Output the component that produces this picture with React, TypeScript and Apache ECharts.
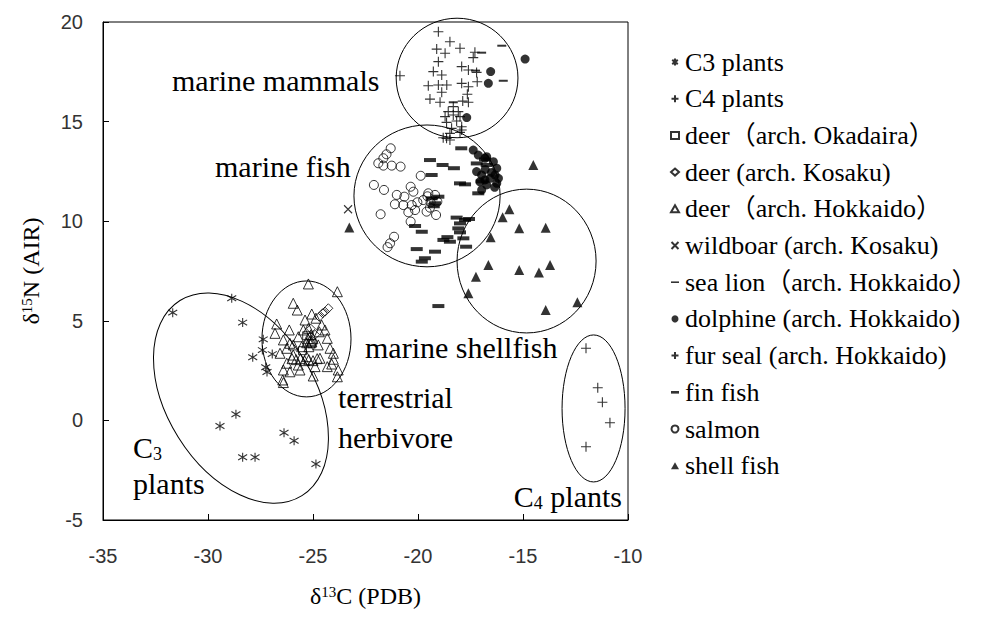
import React, { useEffect, useRef } from 'react';
import * as echarts from 'echarts';

// δ13C (x), δ15N (y) pairs for each group
const c3Plants = [
  [-31.68, 5.41], [-28.87, 6.13], [-28.35, 4.91], [-27.37, 4.07], [-27.41, 3.53], [-26.94, 3.33],
  [-27.87, 3.17], [-27.25, 2.67], [-27.19, 2.43], [-28.67, 0.31], [-29.43, -0.28], [-28.35, -1.85],
  [-27.76, -1.85], [-26.38, -0.62], [-25.9, -1.02], [-24.86, -2.19],
];
const c4Plants = [[-12.0, 3.62], [-11.44, 1.64], [-11.22, 0.91], [-10.86, -0.12], [-12.0, -1.32]];
const deerOkadaira = [[-25.3, 4.25], [-25.05, 3.85], [-25.5, 3.5]];
const deerKosaku = [
  [-24.27, 5.63], [-24.43, 5.46], [-24.54, 5.38], [-24.7, 5.2], [-25.1, 4.6], [-24.9, 4.3],
];
const deerHokkaido = [
  [-25.22, 6.85], [-23.84, 6.46], [-25.94, 5.88], [-25.75, 5.54], [-25.06, 5.34], [-24.86, 5.13],
  [-25.38, 5.04], [-26.73, 4.84], [-26.13, 4.54], [-25.22, 4.62], [-24.7, 4.45], [-24.32, 4.12],
  [-26.81, 4.37], [-26.41, 4.04], [-26.1, 3.87], [-25.7, 4.2], [-25.54, 3.7], [-25.06, 3.95],
  [-24.75, 3.79], [-24.19, 3.62], [-24.03, 3.37], [-25.94, 3.28], [-25.3, 3.2], [-24.67, 3.12],
  [-24.03, 3.07], [-26.25, 2.87], [-25.7, 2.78], [-24.9, 2.7], [-24.32, 2.7], [-26.41, 2.53],
  [-26.1, 2.44], [-25.62, 2.53], [-26.44, 2.03], [-24.99, 2.23], [-23.84, 2.19], [-26.41, 1.9],
  [-24.11, 2.83], [-23.8, 2.53], [-25.94, 3.79], [-25.46, 4.54], [-24.59, 4.79], [-24.43, 4.54],
  [-26.25, 3.62], [-26.57, 3.37], [-25.25, 4.1], [-25.15, 4.0], [-25.3, 3.9], [-25.1, 4.3],
  [-25.2, 3.7], [-25.0, 4.1], [-26.0, 3.1], [-25.8, 3.05], [-25.6, 3.1], [-25.4, 3.0],
  [-25.2, 3.05], [-25.0, 3.0], [-24.8, 3.1],
];
const wildboar = [[-23.33, 10.6]];
const seaLion = [[-16.01, 18.81], [-16.97, 18.46], [-17.26, 17.56], [-15.94, 17.05], [-18.32, 15.97]];
const dolphine = [
  [-14.9, 18.14], [-16.54, 17.51], [-16.65, 16.92], [-17.68, 15.2], [-17.37, 13.57], [-17.13, 13.32],
  [-16.81, 13.16], [-16.41, 12.99], [-16.25, 12.66], [-16.33, 12.32], [-16.57, 12.15], [-16.97, 12.32],
  [-17.05, 11.98], [-16.73, 11.82], [-16.25, 11.9], [-16.97, 11.57], [-16.17, 12.15], [-17.21, 12.49],
  [-16.5, 12.45], [-16.8, 12.6], [-16.35, 11.7], [-16.73, 13.24], [-16.81, 12.07],
];
const furSeal = [
  [-19.03, 19.51], [-18.48, 19.01], [-19.11, 18.64], [-18.71, 18.43], [-18.0, 18.68], [-17.29, 18.48],
  [-17.37, 18.21], [-19.03, 18.01], [-17.92, 17.76], [-17.6, 17.59], [-17.21, 17.47], [-19.27, 17.51],
  [-18.87, 17.34], [-20.86, 17.3], [-19.51, 16.8], [-19.03, 16.84], [-18.63, 16.84], [-17.92, 16.92],
  [-17.6, 16.75], [-17.18, 17.0], [-18.87, 16.47], [-19.43, 16.13], [-18.95, 15.97], [-17.65, 16.37],
  [-17.87, 16.03], [-17.6, 15.97], [-18.32, 15.75], [-18.56, 15.5], [-18.08, 15.5], [-18.71, 15.25],
  [-18.32, 15.33], [-18.0, 15.25], [-18.64, 14.96], [-18.16, 15.03], [-18.4, 14.66], [-17.92, 14.74],
  [-18.48, 14.41], [-18.0, 14.46], [-18.8, 14.19], [-18.48, 14.08], [-18.64, 14.16], [-17.92, 14.58],
];
const finFish = [
  [-19.43, 13.07], [-18.83, 12.82], [-18.29, 12.66], [-19.35, 12.32], [-17.76, 11.85], [-17.94, 13.66],
  [-16.73, 12.82], [-17.13, 11.4], [-19.03, 11.23], [-19.19, 10.9], [-18.16, 10.18], [-18.0, 9.89],
  [-18.08, 9.64], [-18.0, 9.44], [-18.79, 9.06], [-18.48, 8.97], [-17.84, 9.14], [-20.06, 8.6],
  [-19.19, 8.47], [-19.67, 8.14], [-19.82, 7.97], [-19.82, 9.47], [-17.76, 10.06], [-17.57, 10.11],
  [-18.6, 9.2], [-17.71, 8.72], [-20.14, 9.76], [-18.0, 11.9], [-17.2, 12.9], [-16.97, 12.0],
  [-19.03, 5.74], [-19.35, 11.15], [-19.25, 10.75], [-16.81, 13.1],
];
const salmon = [
  [-21.3, 13.66], [-21.5, 13.36], [-21.65, 13.16], [-21.89, 12.91], [-21.65, 12.79], [-21.25, 12.79],
  [-20.83, 12.74], [-19.87, 12.28], [-22.1, 11.82], [-21.62, 11.57], [-20.35, 11.73], [-20.22, 11.48],
  [-21.01, 11.32], [-20.65, 11.23], [-21.1, 10.85], [-20.7, 10.81], [-20.3, 10.81], [-20.03, 10.95],
  [-20.46, 10.45], [-20.14, 10.56], [-19.51, 11.4], [-19.19, 11.32], [-19.08, 10.98], [-19.43, 10.68],
  [-19.59, 10.48], [-21.78, 10.35], [-19.14, 10.31], [-20.35, 9.98], [-21.14, 9.22], [-21.33, 8.89],
  [-19.75, 11.06], [-21.45, 8.7], [-19.55, 11.25], [-19.4, 10.95],
];
const shellFish = [
  [-14.51, 12.82], [-15.65, 10.6], [-15.97, 10.2], [-16.54, 9.19], [-15.18, 9.64], [-13.92, 9.67],
  [-16.65, 7.8], [-17.24, 7.21], [-15.18, 7.55], [-14.24, 7.42], [-13.71, 7.8], [-17.6, 6.38],
  [-13.92, 5.54], [-12.41, 5.93], [-23.27, 9.69],
];

// Group outlines: centre x, centre y, semi-axis a, semi-axis b, tilt (deg)
// untilted: a in δ13C units, b in δ15N units; tilted: both in δ13C units
const groupOutlines = [
  [-18.14, 17.19, 2.9, 3.0, 0],
  [-19.57, 11.27, 3.48, 3.56, 0],
  [-14.83, 8.0, 3.31, 3.61, 0],
  [-25.31, 4.09, 2.12, 2.91, 0],
  [-11.64, 0.6, 1.5, 3.69, 0],
  [-28.43, 1.12, 5.48, 3.52, -58],
];

const SERIF = 'Liberation Serif, Noto Sans CJK JP, serif';
const SANS = 'Liberation Sans, Arial, sans-serif';

const SYM_ASTERISK = 'path://M5,0L5,10M1,2L9,8M9,2L1,8';
const SYM_PLUS = 'path://M5,0L5,10M0,5L10,5';
const SYM_CROSS = 'path://M0,0L10,10M10,0L0,10';
const SYM_THIN_DASH = 'path://M0,0h10v2h-10z';
const SYM_THICK_DASH = 'path://M0,0h10v3.3h-10z';

const stroked = { color: '#000', borderColor: '#000', borderWidth: 1.1 };
const hollow = { color: 'rgba(255,255,255,0)', borderColor: '#000', borderWidth: 1 };
const filled = { color: '#000', borderWidth: 0 };

const groups = [
  { name: 'C3 plants', data: c3Plants, symbol: SYM_ASTERISK, size: 9, style: stroked },
  { name: 'C4 plants', data: c4Plants, symbol: SYM_PLUS, size: 10, style: stroked },
  { name: 'deer（arch. Okadaira）', data: deerOkadaira, symbol: 'rect', size: 8, style: hollow },
  { name: 'deer (arch. Kosaku)', data: deerKosaku, symbol: 'diamond', size: 9, style: hollow },
  { name: 'deer（arch. Hokkaido）', data: deerHokkaido, symbol: 'triangle', size: 10, style: hollow },
  { name: 'wildboar (arch. Kosaku)', data: wildboar, symbol: SYM_CROSS, size: 8, style: stroked },
  { name: 'sea lion（arch. Hokkaido）', data: seaLion, symbol: SYM_THIN_DASH, size: [9, 2], style: filled },
  { name: 'dolphine (arch. Hokkaido)', data: dolphine, symbol: 'circle', size: 9, style: filled },
  { name: 'fur seal (arch. Hokkaido)', data: furSeal, symbol: SYM_PLUS, size: 10, style: stroked },
  { name: 'fin fish', data: finFish, symbol: SYM_THICK_DASH, size: [12, 4], style: filled },
  { name: 'salmon', data: salmon, symbol: 'circle', size: 9, style: hollow },
  { name: 'shell fish', data: shellFish, symbol: 'triangle', size: 10, style: filled },
];

export default function App() {
  const ref = useRef<HTMLDivElement>(null);

  useEffect(() => {
    if (!ref.current) return;
    const chart = echarts.init(ref.current, undefined, { renderer: 'svg' });

    const scatterSeries = groups.map((g) => ({
      type: 'scatter',
      name: g.name,
      data: g.data,
      symbol: g.symbol,
      symbolSize: g.size,
      itemStyle: g.style,
      z: 3,
    }));

    const outlineSeries = {
      type: 'custom',
      name: 'outlines',
      data: groupOutlines,
      silent: true,
      z: 2,
      encode: { x: 0, y: 1 },
      renderItem: (_params: any, api: any) => {
        const cx = api.value(0);
        const cy = api.value(1);
        const a = api.value(2);
        const b = api.value(3);
        const tilt = api.value(4);
        const c = api.coord([cx, cy]);
        const rx = api.size([a, 0])[0];
        const ry = tilt ? api.size([b, 0])[0] : api.size([0, b])[1];
        return {
          type: 'ellipse',
          x: c[0],
          y: c[1],
          rotation: (tilt * Math.PI) / 180,
          shape: { cx: 0, cy: 0, rx, ry },
          style: { fill: 'none', stroke: '#000', lineWidth: 1 },
        };
      },
    };

    const label = (text: string, x: number, y: number, align = 'left') => ({
      type: 'text',
      x,
      y,
      silent: true,
      style: {
        text,
        fill: '#000',
        fontFamily: SERIF,
        fontSize: 30,
        align,
        verticalAlign: 'middle',
        rich: {
          sub: { fontSize: 18, fontFamily: SERIF, verticalAlign: 'bottom', padding: [14, 0, 0, 0] },
        },
      },
    });

    const nameRich = {
      d: { fontFamily: SERIF, fontSize: 24, color: '#000' },
      s: { fontFamily: SERIF, fontSize: 15, color: '#000', verticalAlign: 'top' },
      n: { fontFamily: SERIF, fontSize: 24, color: '#000' },
    };

    chart.setOption({
      animation: false,
      backgroundColor: '#fff',
      grid: {
        left: 103,
        right: 353,
        top: 22,
        bottom: 105,
        show: true,
        borderColor: '#000',
        borderWidth: 1,
        backgroundColor: 'transparent',
      },
      xAxis: {
        type: 'value',
        min: -35,
        max: -10,
        interval: 5,
        name: '{d|δ}{s|13}{n|C (PDB)}',
        nameLocation: 'middle',
        nameGap: 64,
        nameTextStyle: { rich: nameRich },
        axisLine: { onZero: false, lineStyle: { color: '#000', width: 1 } },
        axisTick: { inside: true, length: 6, lineStyle: { color: '#000' } },
        axisLabel: { margin: 26, fontFamily: SANS, fontSize: 20, color: '#333' },
        splitLine: { show: false },
      },
      yAxis: {
        type: 'value',
        min: -5,
        max: 20,
        interval: 5,
        name: '{d|δ}{s|15}{n|N (AIR)}',
        nameLocation: 'middle',
        nameGap: 60,
        nameRotate: 90,
        nameTextStyle: { rich: nameRich },
        axisLine: { onZero: false, lineStyle: { color: '#000', width: 1 } },
        axisTick: { inside: true, length: 6, lineStyle: { color: '#000' } },
        axisLabel: { margin: 20, fontFamily: SANS, fontSize: 20, color: '#333' },
        splitLine: { show: false },
      },
      legend: {
        orient: 'vertical',
        left: 665,
        top: 43,
        itemWidth: 8,
        itemHeight: 7,
        itemGap: 8.7,
        symbolKeepAspect: true,
        selectedMode: false,
        data: groups.map((g) => g.name),
        textStyle: {
          fontFamily: SERIF,
          fontSize: 26,
          color: '#000',
          lineHeight: 28,
          padding: [0, 0, 0, 1],
        },
      },
      graphic: [
        label('marine mammals', 172, 80),
        label('marine fish', 215, 166),
        label('marine shellfish', 365, 347),
        label('terrestrial', 338, 397),
        label('herbivore', 338, 437),
        label('C{sub|3}', 133, 447),
        label('plants', 133, 483),
        label('C{sub|4} plants', 622, 496, 'right'),
      ],
      series: [outlineSeries, ...scatterSeries],
    });

    return () => chart.dispose();
  }, []);

  return <div ref={ref} style={{ position: 'fixed', left: 0, top: 0, width: 981, height: 625 }} />;
}
